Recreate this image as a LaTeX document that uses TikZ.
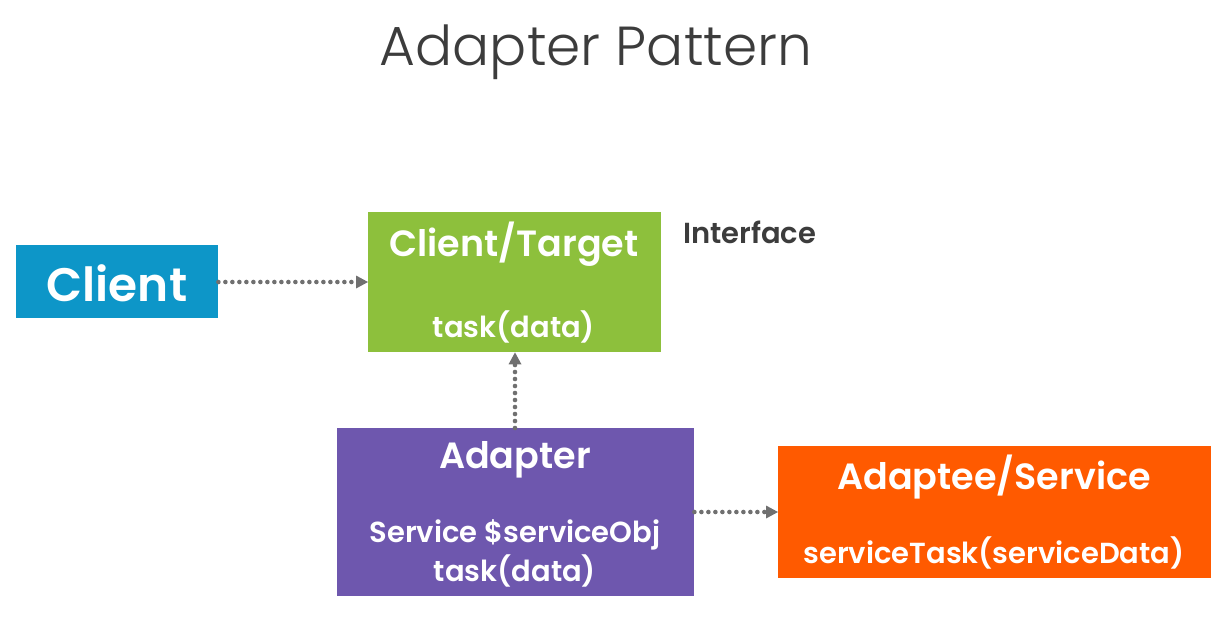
\documentclass[tikz,border=0pt]{standalone}
\usepackage{fontspec}
\setmainfont{Poppins}[BoldFont={Poppins SemiBold}]
\newfontfamily\titlefont{Poppins Light}
\usetikzlibrary{arrows.meta}
\definecolor{cblue}{HTML}{0D96C8}
\definecolor{cgreen}{HTML}{8DC03C}
\definecolor{cpurple}{HTML}{6E57AE}
\definecolor{corange}{HTML}{FF5A00}
\definecolor{cgray}{HTML}{707070}
\definecolor{ctext}{HTML}{3C3C3C}
\begin{document}
\begin{tikzpicture}[x=1pt,y=-1pt,
  box/.style={draw=none,inner sep=0pt,anchor=north west},
  lbl/.style={text=white,inner sep=0pt,anchor=center},
  big/.style={font=\bfseries\fontsize{36.5}{44}\selectfont},
  small/.style={font=\bfseries\fontsize{29}{35}\selectfont},
  dotarrow/.style={draw=cgray,line width=4.6pt,line cap=round,dash pattern=on 0pt off 7pt,
     -{Triangle[length=12pt,width=13pt,line cap=butt,line width=0pt]}}]
\useasboundingbox (0,0) rectangle (1226,641);
\node[font=\titlefont\fontsize{55}{66}\selectfont,text=ctext,inner sep=0pt] (title) at (596,52) {Adapter Pattern};
% boxes
\node[box,fill=cblue,minimum width=202pt,minimum height=73pt] (client) at (16,245) {};
\node[box,fill=cgreen,minimum width=293pt,minimum height=140pt] (target) at (368,212) {};
\node[box,fill=cpurple,minimum width=357pt,minimum height=168pt] (adapter) at (337,428) {};
\node[box,fill=corange,minimum width=433pt,minimum height=132pt] (adaptee) at (778,446) {};
% labels
\node[lbl,font=\bfseries\fontsize{47}{56}\selectfont] (clientlbl) at (117,283) {Client};
\node[lbl,big] (targetlbl) at (514,244) {Client/Target};
\node[lbl,small] (targettask) at (514,327) {task(data)};
\node[small,text=ctext,inner sep=0pt,anchor=west] (iface) at (683,232) {Interface};
\node[lbl,big] (adapterlbl) at (515,460) {Adapter};
\node[lbl,small] (adaptersvc) at (515,535) {Service \$serviceObj};
\node[lbl,small] (adaptertask) at (515,571) {task(data)};
\node[lbl,big] (adapteelbl) at (994,477) {Adaptee/Service};
\node[lbl,small] (adapteetask) at (994,553) {serviceTask(serviceData)};
% connectors
\coordinate (c1) at (0,282);
\draw[dotarrow] (client.east |- c1) -- (target.west |- c1);
\coordinate (a1) at (515,426);
\draw[dotarrow] (adapter.north -| a1) -- (target.south -| a1);
\coordinate (s1) at (0,512);
\draw[dotarrow] (adapter.east |- s1) -- (adaptee.west |- s1);
\end{tikzpicture}
\end{document}
